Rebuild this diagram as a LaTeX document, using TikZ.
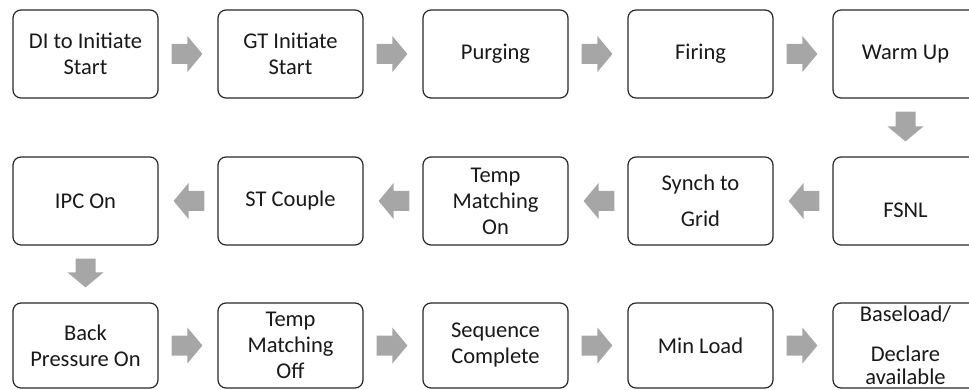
\documentclass[tikz,border=0pt]{standalone}
\usepackage{fontspec}
\setmainfont{Carlito}
\usetikzlibrary{calc}

\definecolor{arrowgray}{RGB}{166,166,166}
\definecolor{boxline}{RGB}{40,40,40}
\definecolor{boxtext}{RGB}{25,25,25}

% Grey block arrow between two anchors: starts 13pt after the first,
% its tip stops 15pt before the second.
\newcommand\flowarrow[2]{%
  \path ($(#1)!13pt!(#2)$) coordinate (fa-s)
        ($(#2)!15pt!(#1)$) coordinate (fa-t)
        ($(#2)!30pt!(#1)$) coordinate (fa-h);
  \fill[arrowgray]
        ($(fa-s)!10pt!90:(fa-t)$) -- ($(fa-h)!10pt!-90:(fa-s)$)
     -- ($(fa-h)!18pt!-90:(fa-s)$) -- (fa-t)
     -- ($(fa-h)!18pt!90:(fa-s)$) -- ($(fa-h)!10pt!90:(fa-s)$)
     -- ($(fa-s)!10pt!-90:(fa-t)$) -- cycle;}

\begin{document}
\begin{tikzpicture}[x=1pt,y=-1pt,
  stagebox/.style={draw=boxline, line width=1.2pt, fill=white,
    rounded corners=8pt, minimum width=145pt, minimum height=88pt,
    inner sep=0pt, align=center, text=boxtext,
    font=\fontsize{22.5}{26}\selectfont},
  lowbox/.style={stagebox, minimum height=85pt},
  stagetext/.style={inner sep=0pt, text=boxtext,
    font=\fontsize{22.5}{26}\selectfont}]

\clip (0,0) rectangle (969,390);

% first row, left to right
\node[stagebox] (n1) at (85.5,54)  {DI to Initiate\\Start};
\node[stagebox] (n2) at (290.5,54) {GT Initiate\\Start};
\node[stagebox] (n3) at (495.5,54) {Purging};
\node[stagebox] (n4) at (700.5,54) {Firing};
\node[stagebox] (n5) at (905.5,54) {Warm Up};

% second row, right to left
\node[stagebox] (n6)  at (905.5,201) {};
\node[stagetext, anchor=base] (n6t) at ($(n6.center)+(0,17)$) {FSNL};
\node[stagebox] (n7)  at (700.5,201) {Synch to\\[10pt]Grid};
\node[stagebox] (n8)  at (495.5,201) {Temp\\Matching\\On};
\node[stagebox] (n9)  at (290.5,201) {ST Couple};
\node[stagebox] (n10) at (85.5,201)  {IPC On};

% third row, left to right
\node[lowbox] (n11) at (85.5,345.5)  {Back\\Pressure On};
\node[lowbox] (n12) at (290.5,345.5) {Temp\\Matching\\Off};
\node[lowbox] (n13) at (495.5,345.5) {Sequence\\Complete};
\node[lowbox] (n14) at (700.5,345.5) {Min Load};
\node[lowbox] (n15) at (905.5,345.5) {Baseload/\\[14pt]Declare\\[-3pt]available};

% connectors
\flowarrow{n1.east}{n2.west}
\flowarrow{n2.east}{n3.west}
\flowarrow{n3.east}{n4.west}
\flowarrow{n4.east}{n5.west}
\flowarrow{n5.south}{n6.north}
\flowarrow{n6.west}{n7.east}
\flowarrow{n7.west}{n8.east}
\flowarrow{n8.west}{n9.east}
\flowarrow{n9.west}{n10.east}
\flowarrow{n10.south}{n11.north}
\flowarrow{n11.east}{n12.west}
\flowarrow{n12.east}{n13.west}
\flowarrow{n13.east}{n14.west}
\flowarrow{n14.east}{n15.west}
\end{tikzpicture}
\end{document}
